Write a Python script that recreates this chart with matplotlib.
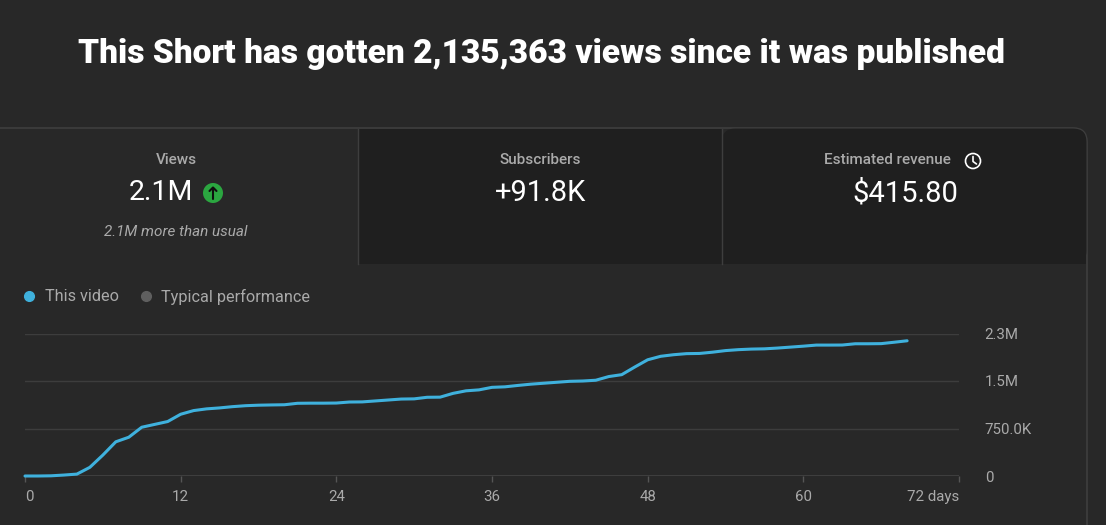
import matplotlib
matplotlib.use('Agg')
import matplotlib.pyplot as plt
import matplotlib.patches as patches

plt.rcParams['font.family'] = ['Roboto', 'DejaVu Sans']

# Cumulative views per day since publishing
days = list(range(0, 69))
views = [
    0, 0, 3000, 15000, 30000, 137000, 330000, 540000, 612000, 770000,
    815000, 860000, 975000, 1033000, 1060000, 1075000, 1095000, 1110000, 1118000, 1122000,
    1125000, 1148000, 1150000, 1150000, 1152000, 1168000, 1170000, 1185000, 1200000, 1215000,
    1218000, 1243000, 1245000, 1305000, 1345000, 1360000, 1400000, 1408000, 1430000, 1450000,
    1465000, 1480000, 1495000, 1500000, 1512000, 1570000, 1600000, 1720000, 1835000, 1890000,
    1915000, 1932000, 1935000, 1955000, 1980000, 1995000, 2004000, 2008000, 2020000, 2035000,
    2050000, 2067000, 2067000, 2068000, 2088000, 2088000, 2090000, 2112000, 2135000,
]

x_ticks = [0, 12, 24, 36, 48, 60, 72]
x_labels = ['0', '12', '24', '36', '48', '60', '72 days']
y_ticks = [0, 750000, 1500000, 2250000]
y_labels = ['0', '750.0K', '1.5M', '2.3M']

# summary cards
card_titles = ['Views', 'Subscribers', 'Estimated revenue']
card_values = ['2.1M', '+91.8K', '$415.80']
views_note = '2.1M more than usual'
title = 'This Short has gotten 2,135,363 views since it was published'

BG = '#282828'
DARK = '#1f1f1f'
BORDER = '#3e3e3e'
LINE = '#3fb1dd'
GREY_TXT = '#aaaaaa'

W, H = 1106, 525
fig = plt.figure(figsize=(W / 100, H / 100), dpi=100)
fig.patch.set_facecolor(BG)

# background axes in pixel coordinates for the card layout
bg = fig.add_axes([0, 0, 1, 1])
bg.set_xlim(0, W)
bg.set_ylim(H, 0)
bg.axis('off')

card = patches.FancyBboxPatch((-30, 128), 1117, 450, boxstyle='round,pad=0,rounding_size=14',
                              facecolor=BG, edgecolor=BORDER, linewidth=1.2)
bg.add_patch(card)
bg.add_patch(patches.Rectangle((358, 128.6), 364, 135.4, facecolor=DARK, edgecolor='none'))
bg.add_patch(patches.FancyBboxPatch((722, 128.6), 364.4, 135.4,
                                    boxstyle='round,pad=0,rounding_size=13',
                                    facecolor=DARK, edgecolor='none'))
bg.add_patch(patches.Rectangle((722, 200), 364.4, 64, facecolor=DARK, edgecolor='none'))
bg.plot([358, 358], [129, 264], color=BORDER, lw=1)
bg.plot([722, 722], [129, 264], color=BORDER, lw=1)

bg.text(541, 54, title, ha='center', va='center', color='white',
        fontsize=24.1, fontweight='black')

centers = [176, 540, 887]
for cx, t in zip(centers, card_titles):
    bg.text(cx, 160, t, ha='center', va='center', color=GREY_TXT, fontsize=11, fontweight='medium')
bg.text(161, 193, card_values[0], ha='center', va='center', color='white', fontsize=20.5)
bg.text(541, 193, card_values[1], ha='center', va='center', color='white', fontsize=21)
bg.text(905, 193, card_values[2], ha='center', va='center', color='white', fontsize=21)
bg.text(176, 232, views_note, ha='center', va='center', color=GREY_TXT, fontsize=11, style='italic')

# green "up" badge next to views
bg.add_patch(patches.Circle((213, 193), 10, facecolor='#2ba640', edgecolor='none'))
bg.plot([213, 213], [199, 187.5], color='#0f0f0f', lw=1.5, solid_capstyle='round')
bg.plot([209.5, 213, 216.5], [191, 187.5, 191], color='#0f0f0f', lw=1.5,
        solid_capstyle='round', solid_joinstyle='round')

# clock icon next to revenue title
bg.add_patch(patches.Circle((973, 161), 7.5, facecolor='none', edgecolor='white', lw=1.2))
bg.plot([973, 973, 976.5], [156.5, 161.5, 164], color='white', lw=1.2, solid_capstyle='round')

# legend
bg.plot([29], [296], 'o', color=LINE, markersize=7)
bg.text(45, 296.5, 'This video', ha='left', va='center', color=GREY_TXT, fontsize=11.7)
bg.plot([146], [296], 'o', color='#5f5f5f', markersize=7)
bg.text(161, 296.5, 'Typical performance', ha='left', va='center', color=GREY_TXT, fontsize=11.7)

# chart
ax = fig.add_axes([25 / W, (H - 476) / H, 934 / W, (476 - 333.5) / H])
ax.set_facecolor('none')
ax.set_xlim(0, 72)
ax.set_ylim(0, 2250000)
for yv in y_ticks[1:]:
    ax.axhline(yv, color='#3d3d3d', lw=1, zorder=1)
ax.axhline(0, color='#9a9a9a', lw=1, zorder=2)
ax.plot(days, views, color=LINE, lw=2.2, zorder=3, clip_on=False, solid_capstyle='round')

for s in ax.spines.values():
    s.set_visible(False)
ax.set_xticks(x_ticks)
ax.set_xticklabels(x_labels)
ax.yaxis.tick_right()
ax.set_yticks(y_ticks)
ax.set_yticklabels(y_labels)
ax.tick_params(axis='y', length=0, pad=18.5, labelcolor=GREY_TXT, labelsize=10.8)
ax.tick_params(axis='x', length=4, width=1, color='#555555', pad=6,
               labelcolor=GREY_TXT, labelsize=10.8)
xl = ax.get_xticklabels()
xl[0].set_ha('left')
xl[-1].set_ha('right')

fig.savefig('out.png', dpi=100, facecolor=BG)
